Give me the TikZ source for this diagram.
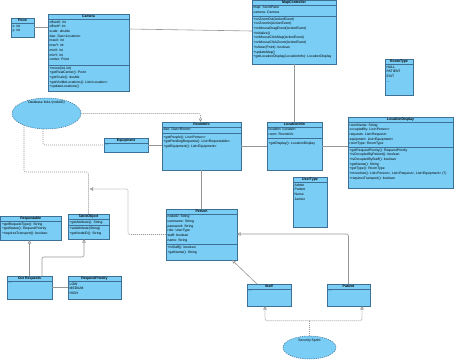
\documentclass[tikz,border=0pt]{standalone}
\usepackage{fontspec}
\setmainfont{Liberation Sans}
\usetikzlibrary{arrows.meta,positioning,shapes.geometric,calc,shadows}
\definecolor{clsfill}{RGB}{122,205,244}
\definecolor{clsborder}{RGB}{62,112,150}
\definecolor{linegray}{RGB}{150,150,150}

% one class box: name, x, y, width, height, title
\newcommand{\classbox}[6]{%
  \node[cls,minimum width=#4pt,minimum height=#5pt] (#1) at (#2,#3) {};
  \node[hdr] at ($(#1.north)+(0,2.6)$) {#6};
  \draw[sepline] ($(#1.north west)+(0,5)$) -- ($(#1.north east)+(0,5)$);
}

\begin{document}
\begin{tikzpicture}[x=1pt,y=-1pt,
    cls/.style={draw=clsborder,fill=clsfill,line width=0.5pt,anchor=north west,
      inner sep=0pt,outer sep=0pt,
      drop shadow={shadow xshift=0.8pt,shadow yshift=-0.8pt,fill=black!30,opacity=1}},
    note/.style={ellipse,draw=clsborder,fill=clsfill,line width=0.5pt,
      dash pattern=on 1.2pt off 1pt,inner sep=0pt},
    hdr/.style={font=\fontsize{3.5}{4}\selectfont\bfseries,inner sep=0pt},
    mem/.style={font=\fontsize{3.4}{4.7}\selectfont,align=left,anchor=north west,inner sep=0pt},
    sepline/.style={draw=clsborder,line width=0.5pt},
    assoc/.style={draw=linegray,line width=0.6pt},
    inherit/.style={assoc,rounded corners=2pt,-{Triangle[open,length=3.5pt,width=3.5pt]}},
    realize/.style={draw=linegray,line width=0.6pt,dash pattern=on 1pt off 1pt,
      rounded corners=2pt,-{Triangle[open,length=3.5pt,width=3.5pt]}}]
  \useasboundingbox (0,0) rectangle (455,360);

  % top row
  \classbox{point}{11}{18}{23}{19}{Point}
  \node[mem] at ($(point.north west)+(1.5,6.5)$) {x: int\\y: int};

  \classbox{camera}{48}{14}{81}{77}{Camera}
  \node[mem] at ($(camera.north west)+(1.5,6.5)$) {offsetX: int\\offsetY: int\\scale: double\\dao: Dao<Location>\\maxX: int\\maxY: int\\minX: int\\minY: int\\center: Point};
  \draw[sepline] ($(camera.north west)+(0,51)$) -- ($(camera.north east)+(0,51)$);
  \node[mem] at ($(camera.north west)+(1.5,52.5)$) {+move(int, int)\\+getRealCenter(): Point\\+getScale(): double\\+getVisibleLocations(): List<Location>\\+updateLocations()};

  \classbox{mapctl}{252}{0}{84}{64}{MapController}
  \node[mem] at ($(mapctl.north west)+(1.5,6)$) {map: ScrollPane\\camera: Camera};
  \draw[sepline] ($(mapctl.north west)+(0,16)$) -- ($(mapctl.north east)+(0,16)$);
  \node[mem] at ($(mapctl.north west)+(1.5,17.5)$) {+onZoomOut(ActionEvent)\\+onZoomIn(ActionEvent)\\+onMouseDragEvent(ActionEvent)\\+initialize()\\+onMouseClickMap(ActionEvent)\\+onMouseClickZoom(ActionEvent)\\+isNear(Point): boolean\\+updateMap()\\+getLocationDisplay(LocationInfo): LocationDisplay};

  \classbox{roomtype}{385}{59}{28}{36}{RoomType}
  \node[mem] at ($(roomtype.north west)+(1.5,6.5)$) {HALL\\PATIENT\\EXIT\\...};

  % middle row
  \node[note,minimum width=69pt,minimum height=31pt] (db) at (46.5,113.5) {};
  \node[mem,anchor=north,font=\fontsize{3.4}{4}\selectfont] at ($(db.north)+(0,3)$) {Database links (nodeID)};

  \classbox{equip}{104}{138}{44}{14}{Equipment}
  \node[mem] at ($(equip.north west)+(1.5,6.5)$) {...};

  \classbox{roominfo}{162}{122}{79}{48}{RoomInfo}
  \node[mem] at ($(roominfo.north west)+(1.5,6)$) {dao: Dao<Room>};
  \draw[sepline] ($(roominfo.north west)+(0,11)$) -- ($(roominfo.north east)+(0,11)$);
  \node[mem] at ($(roominfo.north west)+(1.5,13.5)$) {+getPeople(): List<Person>\\+getPendingRequests(): List<Requestable>\\+getEquipment(): List<Equipment>};

  \classbox{locinfo}{267}{122}{55}{48}{LocationInfo}
  \node[mem] at ($(locinfo.north west)+(1.5,6)$) {location: Location\\room: RoomInfo};
  \draw[sepline] ($(locinfo.north west)+(0,16)$) -- ($(locinfo.north east)+(0,16)$);
  \node[mem] at ($(locinfo.north west)+(1.5,19.5)$) {+getDisplay(): LocationDisplay};

  \classbox{locdisp}{348}{117}{105}{71}{LocationDisplay}
  \node[mem] at ($(locdisp.north west)+(1.5,6.5)$) {roomName: String\\occupiedBy: List<Person>\\requests: List<Request>\\equipment: List<Equipment>\\roomType: RoomType};
  \draw[sepline] ($(locdisp.north west)+(0,30)$) -- ($(locdisp.north east)+(0,30)$);
  \node[mem] at ($(locdisp.north west)+(1.5,31.5)$) {+getRequestPriority(): RequestPriority\\+isOccupiedByPatient(): boolean\\+isOccupiedByStaff(): boolean\\+getName(): String\\+getType(): RoomType\\+moveInto(): List<Person>, List<Request>, List<Equipment> (?)\\+requiresTransport(): boolean};

  \classbox{usertype}{293}{177}{34}{50}{UserType}
  \node[mem] at ($(usertype.north west)+(1.5,6.5)$) {Admin\\Patient\\Nurse\\Janitor};

  \classbox{person}{166}{209}{71}{51}{Person}
  \node[mem] at ($(person.north west)+(1.5,6)$) {nodeID: String\\username: String\\password: String\\role: UserType\\staff: boolean\\name: String};
  \draw[sepline] ($(person.north west)+(0,35.5)$) -- ($(person.north east)+(0,35.5)$);
  \node[mem] at ($(person.north west)+(1.5,37)$) {+isStaff(): boolean\\+getName(): String};

  % bottom rows
  \classbox{requestable}{0.5}{216}{60.5}{24}{Requestable}
  \node[mem] at ($(requestable.north west)+(1.5,6.5)$) {+getRequestType(): String\\+getStatus(): RequestPriority\\+requiresTransport(): boolean};

  \classbox{tableobj}{68}{214}{41}{25}{TableObject}
  \node[mem] at ($(tableobj.north west)+(1.5,6.5)$) {+getAttribute(): String};
  \draw[sepline] ($(tableobj.north west)+(0,11.5)$) -- ($(tableobj.north east)+(0,11.5)$);
  \node[mem] at ($(tableobj.north west)+(1.5,13)$) {+setAttribute(String)\\+getNodeID(): String};

  \classbox{ourreq}{7}{276}{45}{23}{Our Requests}
  \node[mem] at ($(ourreq.north west)+(1.5,6.5)$) {...};

  \classbox{reqprio}{68}{276}{53}{23}{RequestPriority}
  \node[mem] at ($(reqprio.north west)+(1.5,6.5)$) {LOW\\MEDIUM\\HIGH};

  \classbox{staff}{247}{284}{44}{22}{Staff}
  \node[mem] at ($(staff.north west)+(1.5,6.5)$) {...};

  \classbox{patient}{327}{284}{43}{22}{Patient}
  \node[mem] at ($(patient.north west)+(1.5,6.5)$) {...};

  \node[note,minimum width=53pt,minimum height=23pt] (sprint) at (309.5,347.5) {};
  \node[mem,anchor=north,font=\fontsize{3.4}{4}\selectfont] at ($(sprint.north)+(0,3.5)$) {Security Sprint};

  % associations
  \draw[assoc] (point.east) -- (point.east -| camera.west);
  \draw[assoc] ($(camera.north east)+(0,15)$) -- ($(mapctl.north west)+(0,31)$);
  \draw[assoc] (locinfo.north) -- (locinfo.north |- mapctl.south);
  \draw[assoc] ($(roomtype.south)+(2,0)$) -- ($(roomtype.south)+(2,0)$ |- locdisp.north);
  \draw[assoc] (equip.east) -- (equip.east -| roominfo.west);
  \draw[assoc] (roominfo.east) -- (locinfo.west);
  \draw[assoc] (locinfo.east) -- (locinfo.east -| locdisp.west);
  \draw[assoc] (roominfo.south) -- (person.north);
  \draw[assoc] ($(person.north east)+(0,13)$) -- ($(person.north east)+(0,13)$ -| usertype.west);
  \draw[assoc] (ourreq.east) -- (reqprio.west);

  % generalisations
  \draw[inherit] (patient.north) |- ($(person.north east)+(0,25)$);
  \draw[inherit] ($(staff.north)+(-12,0)$) -- ($(person.south east)+(-5,0)$);
  \draw[inherit] (ourreq.north) -- (ourreq.north |- requestable.south);
  \draw[inherit] ($(ourreq.north)+(12.5,0)$) |- ($(tableobj.south)+(-4.5,18)$) -- ($(tableobj.south)+(-4.5,0)$);

  % realisations
  \draw[realize] (db.east) -| ($(roominfo.north west)+(38.5,0)$);
  \draw[realize,-] ($(db.center)+(-3.5,15.4)$) |- (equip.west);
  \draw[realize,-] ($(db.center)+(-22.5,11.7)$) |- ($(tableobj.north)+(0,-42)$) -- (tableobj.north);
  \draw[realize] (person.west) -- ++(-38,0) |- ($(tableobj.north)+(1,-25)$);
  \coordinate (fork) at ($(sprint.north)+(0,-15)$);
  \draw[realize,-] (sprint.north) -- (fork);
  \draw[realize] (fork) -| ($(staff.south)+(-4,0)$);
  \draw[realize] (fork) -| ($(patient.south)+(13.5,0)$);
\end{tikzpicture}
\end{document}
